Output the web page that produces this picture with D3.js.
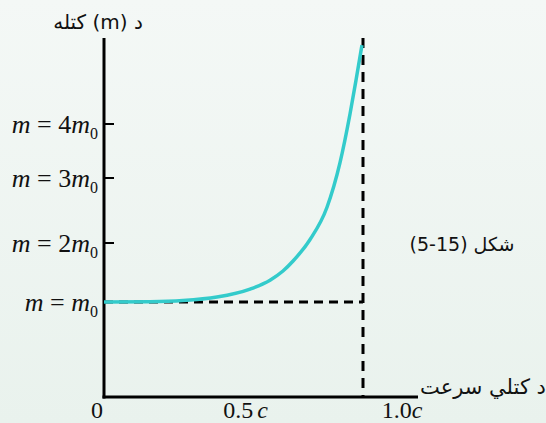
<!DOCTYPE html>
<html>
<head>
<meta charset="utf-8">
<script src="https://cdn.jsdelivr.net/npm/d3@7"></script>
<style>
  html, body { margin: 0; padding: 0; }
  body { width: 546px; height: 423px; overflow: hidden; }
  svg { display: block; }
</style>
</head>
<body>
<svg id="chart" width="546" height="423"></svg>
<script>
// ---- data ----
// speed as a fraction of c, mass in units of m0
const speedValues = [0, 0.178, 0.305, 0.436, 0.564, 0.641, 0.691, 0.730, 0.795, 0.861, 0.911, 0.950, 0.973, 0.996];
const massValues  = [1, 1.005, 1.025, 1.085, 1.22, 1.37, 1.525, 1.695, 2.05, 2.55, 3.28, 4.19, 4.81, 5.46];
const massTicks = [1, 2, 3, 4];
const massTickLabels = ["m = m", "m = 2m", "m = 3m", "m = 4m"];
const speedTicks = [0, 0.5, 1.0];
const speedTickLabels = ["0", "0.5", "1.0"];
const yTitle = "د (m) کتله";
const xTitle = "د کتلي سرعت";
const figLabel = "شکل \u202A(5-15)\u202C";

const svg = d3.select("#chart");

// background gradient
const defs = svg.append("defs");
const grad = defs.append("linearGradient").attr("id", "bg").attr("x1", 0).attr("y1", 0).attr("x2", 0).attr("y2", 1);
grad.append("stop").attr("offset", "0%").attr("stop-color", "#f4f8f6");
grad.append("stop").attr("offset", "100%").attr("stop-color", "#e9f2ed");
svg.append("rect").attr("width", 546).attr("height", 423).attr("fill", "url(#bg)");

// scales
const x = d3.scaleLinear().domain([0, 1]).range([104, 363]);
const y = d3.scaleLinear().domain([1, 2, 3, 4]).range([302, 243, 178, 124]);
const axisTop = 38, axisBottom = 397, axisRight = 418;

const serif = "'Liberation Serif', 'Times New Roman', serif";
const arabic = "'DejaVu Sans', 'Noto Sans', sans-serif";

// dashed guides (asymptote and m0 level)
svg.append("line")
  .attr("x1", x(0)).attr("x2", x(1))
  .attr("y1", y(1)).attr("y2", y(1))
  .attr("stroke", "#000").attr("stroke-width", 3)
  .attr("stroke-dasharray", "9,6");
svg.append("line")
  .attr("x1", x(1)).attr("x2", x(1))
  .attr("y1", axisTop).attr("y2", axisBottom)
  .attr("stroke", "#000").attr("stroke-width", 3)
  .attr("stroke-dasharray", "10,7");

// axes
svg.append("line")
  .attr("x1", x(0)).attr("x2", x(0)).attr("y1", axisTop).attr("y2", axisBottom + 1.5)
  .attr("stroke", "#000").attr("stroke-width", 3);
svg.append("line")
  .attr("x1", x(0) - 1.5).attr("x2", axisRight).attr("y1", axisBottom).attr("y2", axisBottom)
  .attr("stroke", "#000").attr("stroke-width", 3);

// y ticks (except m0 which is on the curve)
svg.selectAll("line.ytick").data(massTicks.filter(d => d > 1)).enter().append("line")
  .attr("class", "ytick")
  .attr("x1", x(0)).attr("x2", x(0) + 10)
  .attr("y1", d => y(d)).attr("y2", d => y(d))
  .attr("stroke", "#000").attr("stroke-width", 2);

// y tick labels
const yl = svg.selectAll("text.ylab").data(massTicks).enter().append("text")
  .attr("class", "ylab")
  .attr("x", 98).attr("y", d => y(d) + 9)
  .attr("text-anchor", "end")
  .attr("font-family", serif).attr("font-size", 26).attr("fill", "#111");
yl.each(function(d, i) {
  const t = d3.select(this);
  const s = massTickLabels[i];            // e.g. "m = 4m"
  const parts = s.split(" = ");
  t.append("tspan").attr("font-style", "italic").text(parts[0]);
  t.append("tspan").text(" = ");
  const rhs = parts[1];
  const coef = rhs.slice(0, rhs.length - 1);
  if (coef) t.append("tspan").text(coef);
  t.append("tspan").attr("font-style", "italic").text("m");
  t.append("tspan").attr("font-size", 16).attr("dy", 6).text("0");
});

// x tick labels
const xOffsets = [-7, 12, 39];
svg.selectAll("text.xlab").data(speedTicks).enter().append("text")
  .attr("class", "xlab")
  .attr("x", (d, i) => x(d) + xOffsets[i])
  .attr("y", 418)
  .attr("text-anchor", "middle")
  .attr("font-family", serif).attr("font-size", 24).attr("fill", "#111")
  .each(function(d, i) {
    const t = d3.select(this);
    t.append("tspan").text(speedTickLabels[i]);
    if (d > 0) t.append("tspan").attr("font-style", "italic").attr("dx", i === 1 ? 4 : 0).text("c");
  });

// curve
const pts = speedValues.map((v, i) => [v, massValues[i]]);
const line = d3.line().x(d => x(d[0])).y(d => y(d[1])).curve(d3.curveMonotoneX);
svg.append("path").datum(pts)
  .attr("d", line)
  .attr("fill", "none")
  .attr("stroke", "#33cbcb").attr("stroke-width", 3.5)
  .attr("stroke-linecap", "butt");

// titles
svg.append("text")
  .attr("x", 98).attr("y", 29)
  .attr("text-anchor", "middle").attr("direction", "rtl")
  .attr("font-family", arabic).attr("font-size", 20).attr("fill", "#111")
  .text(yTitle);
svg.append("text")
  .attr("x", 483).attr("y", 394)
  .attr("text-anchor", "middle").attr("direction", "rtl")
  .attr("font-family", arabic).attr("font-size", 21).attr("fill", "#111")
  .text(xTitle);
svg.append("text")
  .attr("x", 462).attr("y", 251)
  .attr("text-anchor", "middle").attr("direction", "rtl")
  .attr("font-family", arabic).attr("font-size", 19).attr("fill", "#111")
  .text(figLabel);
</script>
</body>
</html>
